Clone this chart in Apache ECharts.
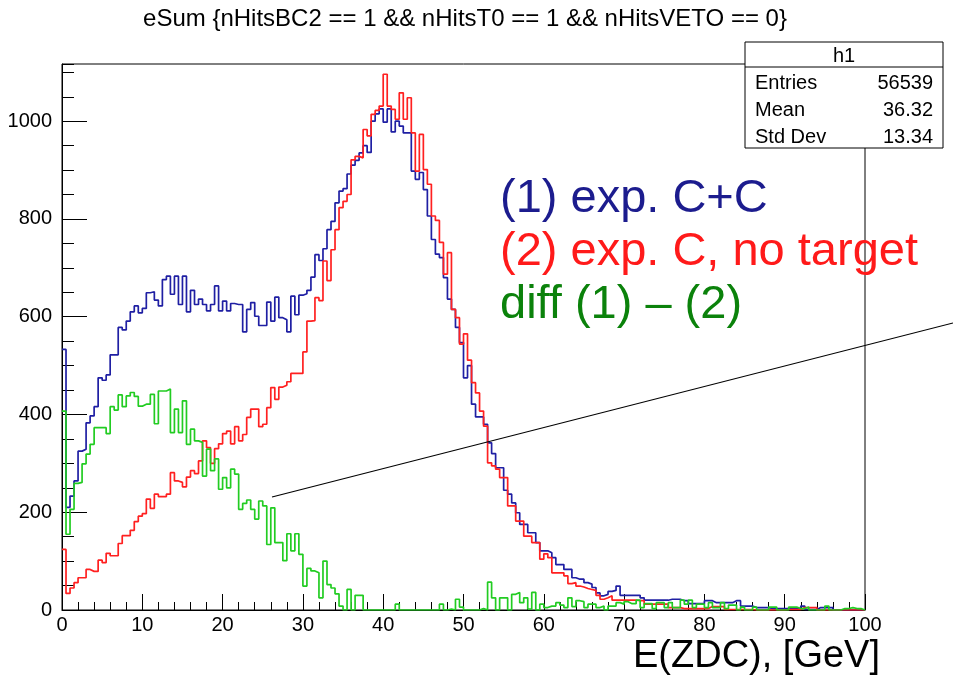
<!DOCTYPE html>
<html><head><meta charset="utf-8">
<script src="https://cdn.jsdelivr.net/npm/echarts@6/dist/echarts.min.js"></script>
<style>html,body{margin:0;padding:0;background:#fff}#c{width:953px;height:683px}</style>
</head><body><div id="c"></div>
<script>
// Histogram binning (x axis, GeV)
const X_MIN = 0, X_MAX = 100, BIN_WIDTH = 0.5;
const Y_MAX = 1117;

// (1) exp. C+C  (blue)
const expCC = [
533,210,233,264,325,329,383,397,416,475, 470,481,522,522,578,573,591,610,622,608,
617,649,651,634,622,676,683,646,683,625, 683,610,654,625,636,625,612,625,663,612,
632,612,627,625,625,569,615,629,601,582, 582,630,591,640,598,594,569,642,604,644,
647,654,681,727,715,739,778,795,833,857, 862,892,910,920,935,950,936,1000,1015,1025,
998,1025,978,1000,990,976,976,898,881,895, 860,806,758,728,721,680,636,615,578,547,
475,500,421,395,395,380,342,320,291,291, 245,237,219,199,175,175,158,158,138,121,
121,117,107,93,93,83,83,66,63,63, 56,53,46,35,29,32,38,40,49,30,
30,30,30,30,25,20,20,20,20,20, 20,22,22,22,19,19,13,13,13,13,
19,19,15,15,15,15,15,19,19,8, 8,8,5,5,5,5,3,3,3,3,
3,3,3,3,8,1,1,1,5,5, 5,5,0,0,0,0,0,0,0,0
];

// (2) exp. C, no target  (red)
const expC = [
124,34,45,56,66,66,83,79,79,102, 97,116,111,111,136,152,152,163,181,192,
197,227,208,237,232,232,237,281,264,261, 252,272,285,279,305,346,332,300,330,340,
361,366,340,375,346,359,394,411,411,375, 380,414,455,431,456,460,467,484,484,484,
528,591,592,639,633,714,674,737,778,823, 836,850,921,928,925,983,970,1014,1022,1031,
1096,1031,1024,1004,1058,1004,1048,976,898,973, 901,871,806,797,752,687,731,615,598,544,
565,511,465,444,407,376,301,295,288,271, 271,213,213,182,182,151,151,138,138,104,
115,107,76,76,76,70,54,56,49,47, 44,42,40,30,22,25,29,20,20,20,
20,20,20,19,19,12,12,12,12,12, 12,5,5,5,3,3,3,3,3,3,
3,7,7,7,7,1,1,1,1,1, 1,1,0,0,0,0,0,0,0,0,
1,1,1,1,5,5,5,5,0,0, 0,0,0,0,0,0,0,0,0,0
];

// diff (1) - (2)  (green)
const diffHist = [
407,155,206,259,261,299,319,339,373,373, 373,361,416,409,440,416,438,445,437,417,
421,421,441,381,448,448,452,363,411,363, 428,339,370,346,343,274,329,285,309,247,
271,250,288,278,206,218,225,206,186,223, 213,134,209,138,138,101,156,121,156,114,
49,85,80,76,25,100,52,45,33,8, 0,42,0,30,30,0,0,0,0,0,
0,0,0,12,0,0,0,0,0,0, 0,0,0,0,12,0,2,0,22,6,
0,0,0,0,3,0,57,25,0,25, 25,0,32,36,15,25,2,36,0,12,
5,8,8,15,10,5,25,7,19,17, 5,12,12,5,8,0,8,8,15,12,
17,13,13,20,5,13,13,3,15,15, 5,15,5,5,20,12,20,5,12,12,
5,15,5,5,15,3,10,10,0,6, 0,0,6,0,0,0,6,6,0,0,
0,6,6,3,3,6,0,0,0,0, 8,0,0,0,3,3,5,3,3,0
];

const statsRows = [["Entries", "56539"], ["Mean", "36.32"], ["Std Dev", "13.34"]];
const legendLines = [
  {text: "(1) exp. C+C", color: "#1c1c8e"},
  {text: "(2) exp. C, no target", color: "#ff1a1a"},
  {text: "diff (1) \u2013 (2)", color: "#0b820b"}
];
const titleText = "eSum {nHitsBC2 == 1 && nHitsT0 == 1 && nHitsVETO == 0}";
const xTitle = "E(ZDC), [GeV]";

function toSteps(values) {
  const pts = values.map((v, i) => [X_MIN + i * BIN_WIDTH, v]);
  pts.push([X_MAX, values[values.length - 1]]);
  return pts;
}

const FONT = '"Liberation Sans", Arial, Helvetica, sans-serif';
const chart = echarts.init(document.getElementById('c'), null, {renderer: 'canvas'});

const graphics = [];
// title
graphics.push({type: 'text', x: 465, y: 19, z: 10,
  style: {text: titleText, fill: '#000', font: '24px ' + FONT, textAlign: 'center', textVerticalAlign: 'middle', align: 'center', verticalAlign: 'middle'}});
// stats box
graphics.push({type: 'rect', shape: {x: 745, y: 42, width: 198, height: 106}, z: 20,
  style: {fill: '#fff', stroke: '#000', lineWidth: 1}});
graphics.push({type: 'line', shape: {x1: 745, y1: 67, x2: 943, y2: 67}, z: 21, style: {stroke: '#000', lineWidth: 1}});
graphics.push({type: 'text', x: 844, y: 56, z: 21,
  style: {text: 'h1', fill: '#000', font: '20px ' + FONT, textAlign: 'center', textVerticalAlign: 'middle', align: 'center', verticalAlign: 'middle'}});
statsRows.forEach((r, i) => {
  const y = 83 + i * 27;
  graphics.push({type: 'text', x: 755, y: y, z: 21,
    style: {text: r[0], fill: '#000', font: '20px ' + FONT, textAlign: 'left', textVerticalAlign: 'middle', align: 'left', verticalAlign: 'middle'}});
  graphics.push({type: 'text', x: 933, y: y, z: 21,
    style: {text: r[1], fill: '#000', font: '20px ' + FONT, textAlign: 'right', textVerticalAlign: 'middle', align: 'right', verticalAlign: 'middle'}});
});
// legend text
legendLines.forEach((l, i) => {
  graphics.push({type: 'text', x: 500, y: 199 + i * 53, z: 15,
    style: {text: l.text, fill: l.color, font: '47px ' + FONT, textAlign: 'left', textVerticalAlign: 'middle', align: 'left', verticalAlign: 'middle'}});
});
// annotation line
graphics.push({type: 'line', shape: {x1: 272, y1: 497, x2: 953, y2: 323}, z: 15, style: {stroke: '#000', lineWidth: 1.2}});
// x axis title
graphics.push({type: 'text', x: 880, y: 657, z: 15,
  style: {text: xTitle, fill: '#000', font: '38px ' + FONT, textAlign: 'right', textVerticalAlign: 'middle', align: 'right', verticalAlign: 'middle'}});

const lineSeries = (name, data, color) => ({
  name, type: 'line', step: 'end', symbol: 'none', showSymbol: false,
  data: toSteps(data), lineStyle: {color, width: 1.7}, itemStyle: {color},
  animation: false, silent: true
});

chart.setOption({
  animation: false,
  backgroundColor: '#fff',
  grid: {left: 62, right: 88, top: 64, bottom: 73, show: true, borderColor: '#000', borderWidth: 1, containLabel: false},
  xAxis: {
    type: 'value', min: X_MIN, max: X_MAX, interval: 10,
    axisLine: {show: true, lineStyle: {color: '#000', width: 1}},
    axisTick: {show: true, inside: true, length: 16, lineStyle: {color: '#000', width: 1}},
    minorTick: {show: true, splitNumber: 5, length: 8, lineStyle: {color: '#000', width: 1}},
    axisLabel: {color: '#000', fontSize: 20, fontFamily: FONT, margin: 5, formatter: v => String(v)},
    splitLine: {show: false}
  },
  yAxis: [{
    type: 'value', min: 0, max: Y_MAX, interval: 200,
    axisLine: {show: true, lineStyle: {color: '#000', width: 1}},
    axisTick: {show: true, inside: true, length: 25, lineStyle: {color: '#000', width: 1}},
    axisLabel: {color: '#000', fontSize: 20, fontFamily: FONT, margin: 10, showMaxLabel: false, formatter: v => String(v)},
    splitLine: {show: false}
  }, {
    type: 'value', min: 0, max: Y_MAX, interval: 50, position: 'left', offset: 0,
    axisLine: {show: false},
    axisTick: {show: true, inside: true, length: 12, lineStyle: {color: '#000', width: 1}},
    axisLabel: {show: false},
    splitLine: {show: false}
  }],
  series: [
    lineSeries('(1) exp. C+C', expCC, '#1f1fa3'),
    lineSeries('(2) exp. C, no target', expC, '#ff2020'),
    lineSeries('diff', diffHist, '#22cc22')
  ],
  graphic: graphics
});
</script>
</body></html>
